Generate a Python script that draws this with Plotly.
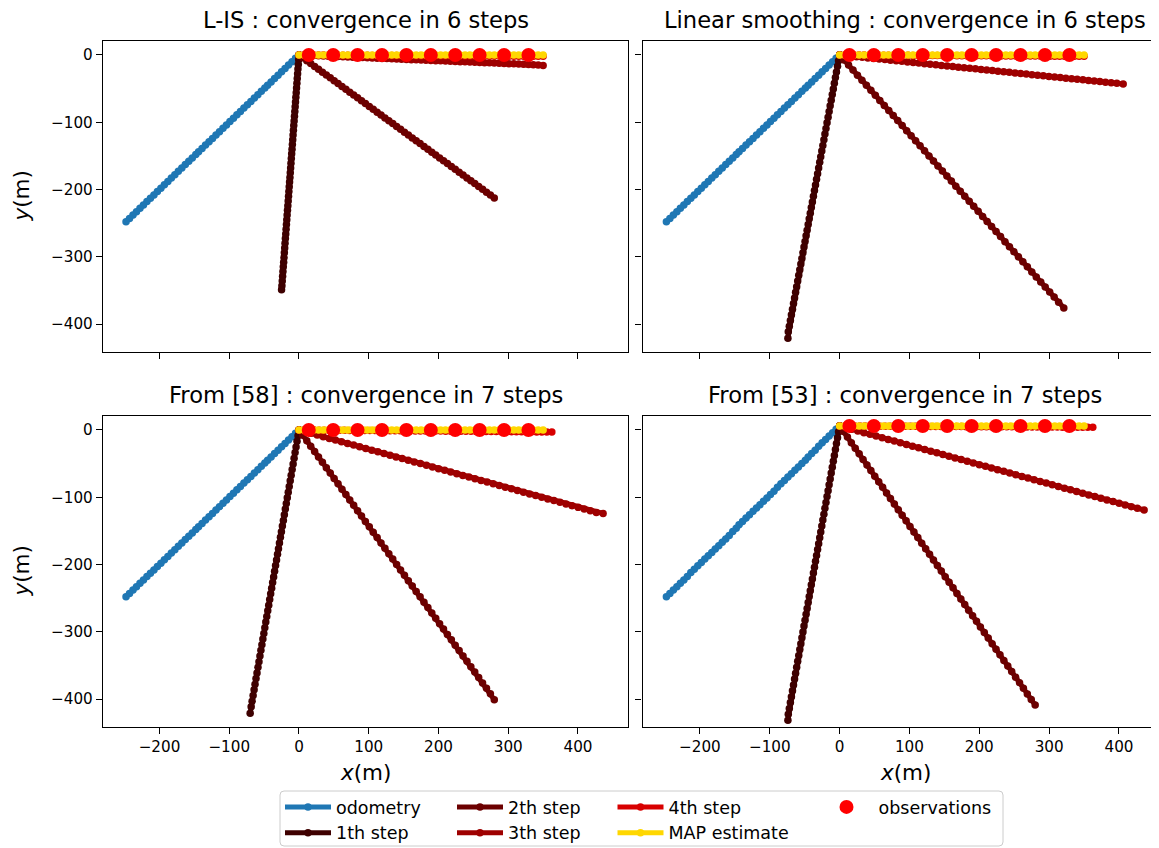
import plotly.graph_objects as go

# ---------------- data (metres) ----------------
# odometry (same dead-reckoning track in the first three panels)
odo = [0, -5, -10, -15, -20, -25, -30, -35, -40, -45, -49, -54, -59, -64, -69, -74, -79, -84, -89, -94,
       -99, -104, -109, -114, -119, -124, -129, -134, -139, -144, -148, -153, -158, -163, -168, -173, -178,
       -183, -188, -193, -198, -203, -208, -213, -218, -223, -228, -233, -238, -243, -248]
odo_br_y = [6, 1, -4, -9, -14, -19, -24, -30, -35, -40, -45, -50, -55, -60, -65, -70, -75, -80, -85, -91,
            -96, -101, -106, -111, -116, -121, -126, -131, -136, -141, -146, -151, -157, -162, -167, -172,
            -177, -182, -187, -192, -197, -202, -207, -212, -218, -223, -228, -233, -238, -243, -248]

# MAP estimate / observations
map_x = [0, 7, 14, 21, 28, 35, 42, 49, 56, 63, 70, 77, 84, 91, 98, 105, 112, 119, 126, 133, 140, 147, 154,
         161, 168, 175, 182, 189, 196, 203, 210, 217, 224, 231, 238, 245, 252, 259, 266, 273, 280, 287, 294,
         301, 308, 315, 322, 329, 336, 343, 350]
map_y = [0] * 51
map_y_br = [6] * 51
obs_x = [14, 49, 84, 119, 154, 189, 224, 259, 294, 329]
obs_y = [0] * 10
obs_y_br = [6] * 10

# ---- L-IS (top left)
lis_s1_x = [0, -0.5, -1, -1.5, -2, -2.5, -3, -3.5, -4, -4.5, -5, -5.5, -6, -6.5, -7, -7.5, -8, -8.5, -9, -9.5,
            -10, -10.5, -11, -11.5, -12, -12.5, -13, -13.5, -14, -14.5, -15, -15.5, -16, -16.5, -17, -17.5,
            -18, -18.5, -19, -19.5, -20, -20.5, -21, -21.5, -22, -22.5, -23, -23.5, -24, -24.5, -25]
lis_s1_y = [0, -7, -14, -21, -28, -35, -42, -49, -56, -63, -70, -77, -84, -91, -98, -105, -112, -119, -126,
            -133, -140, -147, -154, -161, -168, -175, -182, -189, -196, -203, -210, -217, -224, -231, -238,
            -245, -252, -259, -266, -273, -280, -287, -294, -301, -308, -315, -322, -329, -336, -343, -349]
s2_x_a = [0, 5.6, 11.2, 16.8, 22.4, 28, 33.6, 39.2, 44.8, 50.4, 56, 61.6, 67.2, 72.8, 78.4, 84, 89.6, 95.2,
          100.8, 106.4, 112, 117.6, 123.2, 128.8, 134.4, 140, 145.6, 151.2, 156.8, 162.4, 168, 173.6, 179.2,
          184.8, 190.4, 196, 201.6, 207.2, 212.8, 218.4, 224, 229.6, 235.2, 240.8, 246.4, 252, 257.6, 263.2,
          268.8, 274.4, 280]
lis_s2_y = [0, -4.25, -8.5, -12.75, -17, -21.25, -25.5, -29.75, -34, -38.25, -42.5, -46.75, -51, -55.25,
            -59.5, -63.75, -68, -72.25, -76.5, -80.75, -85, -89.25, -93.5, -97.75, -102, -106.25, -110.5,
            -114.75, -119, -123.25, -127.5, -131.75, -136, -140.25, -144.5, -148.75, -153, -157.25, -161.5,
            -165.75, -170, -174.25, -178.5, -182.75, -187, -191.25, -195.5, -199.75, -204, -208.25, -212.5]
lis_s3_y = [0, -0.3, -0.6, -0.9, -1.2, -1.5, -1.8, -2.1, -2.4, -2.7, -3, -3.3, -3.6, -3.9, -4.2, -4.5, -4.8,
            -5.1, -5.4, -5.7, -6, -6.3, -6.6, -6.9, -7.2, -7.5, -7.8, -8.1, -8.4, -8.7, -9, -9.3, -9.6, -9.9,
            -10.2, -10.5, -10.8, -11.1, -11.4, -11.7, -12, -12.3, -12.6, -12.9, -13.2, -13.5, -13.8, -14.1,
            -14.4, -14.7, -15.5]
s4_y_small = [0, -0.04, -0.08, -0.12, -0.16, -0.2, -0.24, -0.28, -0.32, -0.36, -0.4, -0.44, -0.48, -0.52,
              -0.56, -0.6, -0.64, -0.68, -0.72, -0.76, -0.8, -0.84, -0.88, -0.92, -0.96, -1, -1.04, -1.08,
              -1.12, -1.16, -1.2, -1.24, -1.28, -1.32, -1.36, -1.4, -1.44, -1.48, -1.52, -1.56, -1.6, -1.64,
              -1.68, -1.72, -1.76, -1.8, -1.84, -1.88, -1.92, -1.96, -2]

# ---- Linear smoothing (top right)
s1_x_b = [0, -1.5, -3, -4.5, -6, -7.5, -9, -10.5, -12, -13.5, -15, -16.5, -18, -19.5, -21, -22.5, -24, -25.5,
          -27, -28.5, -30, -31.5, -33, -34.5, -36, -37.5, -39, -40.5, -42, -43.5, -45, -46.5, -48, -49.5, -51,
          -52.5, -54, -55.5, -57, -58.5, -60, -61.5, -63, -64.5, -66, -67.5, -69, -70.5, -72, -73.5, -74]
s1_y_b = [0, -8.4, -16.8, -25.2, -33.6, -42, -50.4, -58.8, -67.2, -75.6, -84, -92.4, -100.8, -109.2, -117.6,
          -126, -134.4, -142.8, -151.2, -159.6, -168, -176.4, -184.8, -193.2, -201.6, -210, -218.4, -226.8,
          -235.2, -243.6, -252, -260.4, -268.8, -277.2, -285.6, -294, -302.4, -310.8, -319.2, -327.6, -336,
          -344.4, -352.8, -361.2, -369.6, -378, -386.4, -394.8, -403.2, -411.6, -421]
lin_s2_x = [0, 6.4, 12.8, 19.2, 25.6, 32, 38.4, 44.8, 51.2, 57.6, 64, 70.4, 76.8, 83.2, 89.6, 96, 102.4, 108.8,
            115.2, 121.6, 128, 134.4, 140.8, 147.2, 153.6, 160, 166.4, 172.8, 179.2, 185.6, 192, 198.4, 204.8,
            211.2, 217.6, 224, 230.4, 236.8, 243.2, 249.6, 256, 262.4, 268.8, 275.2, 281.6, 288, 294.4, 300.8,
            307.2, 313.6, 321]
lin_s2_y = [0, -7.5, -15, -22.5, -30, -37.5, -45, -52.5, -60, -67.5, -75, -82.5, -90, -97.5, -105, -112.5,
            -120, -127.5, -135, -142.5, -150, -157.5, -165, -172.5, -180, -187.5, -195, -202.5, -210, -217.5,
            -225, -232.5, -240, -247.5, -255, -262.5, -270, -277.5, -285, -292.5, -300, -307.5, -315, -322.5,
            -330, -337.5, -345, -352.5, -360, -367.5, -376]
lin_s3_x = [0, 8.1, 16.2, 24.3, 32.4, 40.5, 48.6, 56.7, 64.8, 72.9, 81, 89.1, 97.2, 105.3, 113.4, 121.5, 129.6,
            137.7, 145.8, 153.9, 162, 170.1, 178.2, 186.3, 194.4, 202.5, 210.6, 218.7, 226.8, 234.9, 243, 251.1,
            259.2, 267.3, 275.4, 283.5, 291.6, 299.7, 307.8, 315.9, 324, 332.1, 340.2, 348.3, 356.4, 364.5,
            372.6, 380.7, 388.8, 396.9, 406]
lin_s3_y = [0, -0.86, -1.72, -2.58, -3.44, -4.3, -5.16, -6.02, -6.88, -7.74, -8.6, -9.46, -10.32, -11.18,
            -12.04, -12.9, -13.76, -14.62, -15.48, -16.34, -17.2, -18.06, -18.92, -19.78, -20.64, -21.5, -22.36,
            -23.22, -24.08, -24.94, -25.8, -26.66, -27.52, -28.38, -29.24, -30.1, -30.96, -31.82, -32.68, -33.54,
            -34.4, -35.26, -36.12, -36.98, -37.84, -38.7, -39.56, -40.42, -41.28, -42.14, -43]

# ---- From [58] (bottom left)
f58_s1_x = [0, -1.4, -2.8, -4.2, -5.6, -7, -8.4, -9.8, -11.2, -12.6, -14, -15.4, -16.8, -18.2, -19.6, -21,
            -22.4, -23.8, -25.2, -26.6, -28, -29.4, -30.8, -32.2, -33.6, -35, -36.4, -37.8, -39.2, -40.6, -42,
            -43.4, -44.8, -46.2, -47.6, -49, -50.4, -51.8, -53.2, -54.6, -56, -57.4, -58.8, -60.2, -61.6, -63,
            -64.4, -65.8, -67.2, -68.6, -70]
f58_s2_y = [0, -8, -16, -24, -32, -40, -48, -56, -64, -72, -80, -88, -96, -104, -112, -120, -128, -136, -144,
            -152, -160, -168, -176, -184, -192, -200, -208, -216, -224, -232, -240, -248, -256, -264, -272,
            -280, -288, -296, -304, -312, -320, -328, -336, -344, -352, -360, -368, -376, -384, -392, -401]
s3_x_c = [0, 8.7, 17.4, 26.1, 34.8, 43.5, 52.2, 60.9, 69.6, 78.3, 87, 95.7, 104.4, 113.1, 121.8, 130.5, 139.2,
          147.9, 156.6, 165.3, 174, 182.7, 191.4, 200.1, 208.8, 217.5, 226.2, 234.9, 243.6, 252.3, 261, 269.7,
          278.4, 287.1, 295.8, 304.5, 313.2, 321.9, 330.6, 339.3, 348, 356.7, 365.4, 374.1, 382.8, 391.5, 400.2,
          408.9, 417.6, 426.3, 436]
f58_s3_y = [0, -2.5, -5, -7.5, -10, -12.5, -15, -17.5, -20, -22.5, -25, -27.5, -30, -32.5, -35, -37.5, -40,
            -42.5, -45, -47.5, -50, -52.5, -55, -57.5, -60, -62.5, -65, -67.5, -70, -72.5, -75, -77.5, -80,
            -82.5, -85, -87.5, -90, -92.5, -95, -97.5, -100, -102.5, -105, -107.5, -110, -112.5, -115, -117.5,
            -120, -122.5, -124]
s4_x_c = [0, 7.25, 14.5, 21.75, 29, 36.25, 43.5, 50.75, 58, 65.25, 72.5, 79.75, 87, 94.25, 101.5, 108.75, 116,
          123.25, 130.5, 137.75, 145, 152.25, 159.5, 166.75, 174, 181.25, 188.5, 195.75, 203, 210.25, 217.5,
          224.75, 232, 239.25, 246.5, 253.75, 261, 268.25, 275.5, 282.75, 290, 297.25, 304.5, 311.75, 319,
          326.25, 333.5, 340.75, 348, 355.25, 362.5]
f58_s4_y = [0, -0.06, -0.12, -0.18, -0.24, -0.3, -0.36, -0.42, -0.48, -0.54, -0.6, -0.66, -0.72, -0.78, -0.84,
            -0.9, -0.96, -1.02, -1.08, -1.14, -1.2, -1.26, -1.32, -1.38, -1.44, -1.5, -1.56, -1.62, -1.68, -1.74,
            -1.8, -1.86, -1.92, -1.98, -2.04, -2.1, -2.16, -2.22, -2.28, -2.34, -2.4, -2.46, -2.52, -2.58, -2.64,
            -2.7, -2.76, -2.82, -2.88, -2.94, -3]

# ---- From [53] (bottom right)
f53_s1_y = [6, -2.75, -11.5, -20.25, -29, -37.75, -46.5, -55.25, -64, -72.75, -81.5, -90.25, -99, -107.75,
            -116.5, -125.25, -134, -142.75, -151.5, -160.25, -169, -177.75, -186.5, -195.25, -204, -212.75,
            -221.5, -230.25, -239, -247.75, -256.5, -265.25, -274, -282.75, -291.5, -300.25, -309, -317.75,
            -326.5, -335.25, -344, -352.75, -361.5, -370.25, -379, -387.75, -396.5, -405.25, -414, -422.75,
            -431.5]
f53_s2_y = [6, -2.3, -10.6, -18.9, -27.2, -35.5, -43.8, -52.1, -60.4, -68.7, -77, -85.3, -93.6, -101.9, -110.2,
            -118.5, -126.8, -135.1, -143.4, -151.7, -160, -168.3, -176.6, -184.9, -193.2, -201.5, -209.8,
            -218.1, -226.4, -234.7, -243, -251.3, -259.6, -267.9, -276.2, -284.5, -292.8, -301.1, -309.4,
            -317.7, -326, -334.3, -342.6, -350.9, -359.2, -367.5, -375.8, -384.1, -392.4, -400.7, -409]
f53_s3_y = [6, 3.5, 1, -1.5, -4, -6.5, -9, -11.5, -14, -16.5, -19, -21.5, -24, -26.5, -29, -31.5, -34, -36.5,
            -39, -41.5, -44, -46.5, -49, -51.5, -54, -56.5, -59, -61.5, -64, -66.5, -69, -71.5, -74, -76.5, -79,
            -81.5, -84, -86.5, -89, -91.5, -94, -96.5, -99, -101.5, -104, -106.5, -109, -111.5, -114, -116.5,
            -119]
f53_s4_y = [6, 5.96, 5.92, 5.88, 5.84, 5.8, 5.76, 5.72, 5.68, 5.64, 5.6, 5.56, 5.52, 5.48, 5.44, 5.4, 5.36,
            5.32, 5.28, 5.24, 5.2, 5.16, 5.12, 5.08, 5.04, 5, 4.96, 4.92, 4.88, 4.84, 4.8, 4.76, 4.72, 4.68, 4.64,
            4.6, 4.56, 4.52, 4.48, 4.44, 4.4, 4.36, 4.32, 4.28, 4.24, 4.2, 4.16, 4.12, 4.08, 4.04, 4]

titles = ["L-IS : convergence in 6 steps", "Linear smoothing : convergence in 6 steps",
          "From [58] : convergence in 7 steps", "From [53] : convergence in 7 steps"]
series_names = ["odometry", "1th step", "2th step", "3th step", "4th step", "MAP estimate", "observations"]
x_tick_vals = [-200, -100, 0, 100, 200, 300, 400]
x_tick_text = ["\u2212200", "\u2212100", "0", "100", "200", "300", "400"]
y_tick_vals = [0, -100, -200, -300, -400]
y_tick_text = ["0", "\u2212100", "\u2212200", "\u2212300", "\u2212400"]

panels = [
    [(odo, odo), (lis_s1_x, lis_s1_y), (s2_x_a, lis_s2_y), (map_x, lis_s3_y), (map_x, s4_y_small),
     (map_x, map_y), (obs_x, obs_y)],
    [(odo, odo), (s1_x_b, s1_y_b), (lin_s2_x, lin_s2_y), (lin_s3_x, lin_s3_y), (map_x, s4_y_small),
     (map_x, map_y), (obs_x, obs_y)],
    [(odo, odo), (f58_s1_x, s1_y_b), (s2_x_a, f58_s2_y), (s3_x_c, f58_s3_y), (s4_x_c, f58_s4_y),
     (map_x, map_y), (obs_x, obs_y)],
    [(odo, odo_br_y), (s1_x_b, f53_s1_y), (s2_x_a, f53_s2_y), (s3_x_c, f53_s3_y), (s4_x_c, f53_s4_y),
     (map_x, map_y_br), (obs_x, obs_y_br)],
]

# ---------------- styling ----------------
colors = {"odometry": "#1f77b4", "1th step": "#3e0000", "2th step": "#6c0000", "3th step": "#9e0000",
          "4th step": "#d80000", "MAP estimate": "#ffd700", "observations": "#ff0000"}
legend_of = {"odometry": "legend", "1th step": "legend", "2th step": "legend2", "3th step": "legend2",
             "4th step": "legend3", "MAP estimate": "legend3", "observations": "legend4"}

# the page body adds an 8 px margin; the figure is sized so that it fills the 1159x848 window
OFF = 8
W, H = 1159 - OFF, 848 - OFF
FONT = "DejaVu Sans"

def px_x(p):
    # p: pixel column in the window
    return (p - OFF) / W

def px_y(p):
    # p: pixel row in the window
    return 1 - (p - OFF) / H

fig = go.Figure()
axis_ids = [("x", "y"), ("x2", "y2"), ("x3", "y3"), ("x4", "y4")]
for pi, panel in enumerate(panels):
    xa, ya = axis_ids[pi]
    for name, (xs, ys) in zip(series_names, panel):
        if name == "observations":
            fig.add_trace(go.Scatter(x=xs, y=ys, mode="markers", name=name, xaxis=xa, yaxis=ya,
                                     marker=dict(color=colors[name], size=14),
                                     legend=legend_of[name], showlegend=(pi == 0)))
        else:
            fig.add_trace(go.Scatter(x=xs, y=ys, mode="lines+markers", name=name, xaxis=xa, yaxis=ya,
                                     line=dict(color=colors[name], width=5),
                                     marker=dict(color=colors[name], size=7.5),
                                     legend=legend_of[name], showlegend=(pi == 0)))

xdom_l = [px_x(103), px_x(628)]
xdom_r = [px_x(642.5), 1.0]
ydom_t = [px_y(352), px_y(41)]
ydom_b = [px_y(727), px_y(416)]
xr_l = [-281, 471.7]
xr_r = [-282.2, 457.3]
yr = [-441.6, 20.8]

common = dict(showgrid=False, zeroline=False, showline=True, mirror=True, linecolor="black", linewidth=1.4,
              ticks="outside", ticklen=6, tickwidth=1.3, tickcolor="black", automargin=False,
              tickfont=dict(family=FONT, size=15.2, color="black"))

def xax(dom, rng, anchor, labels):
    return dict(domain=dom, range=rng, anchor=anchor, tickmode="array", tickvals=x_tick_vals,
                ticktext=x_tick_text, showticklabels=labels, **common)

def yax(dom, anchor, labels):
    return dict(domain=dom, range=yr, anchor=anchor, tickmode="array", tickvals=y_tick_vals,
                ticktext=y_tick_text, showticklabels=labels, **common)

annotations = []
centers = [((103 + 628) / 2, 20), (905, 20), ((103 + 628) / 2, 395), (905, 395)]
for t, (cx, cy) in zip(titles, centers):
    annotations.append(dict(text=t, x=px_x(cx), y=px_y(cy), xref="paper", yref="paper", showarrow=False,
                            xanchor="center", yanchor="middle", font=dict(family=FONT, size=22.6, color="black")))
for cy in [196.5, 571.5]:
    annotations.append(dict(text="<i>y</i>(m)", x=px_x(21), y=px_y(cy), xref="paper", yref="paper",
                            showarrow=False, textangle=-90, xanchor="center", yanchor="middle",
                            font=dict(family=FONT, size=21.5, color="black")))
for cx in [365.5, 905]:
    annotations.append(dict(text="<i>x</i>(m)", x=px_x(cx), y=px_y(772), xref="paper", yref="paper",
                            showarrow=False, xanchor="center", yanchor="middle",
                            font=dict(family=FONT, size=21.5, color="black")))

leg_common = dict(orientation="v", xanchor="left", yanchor="top", bgcolor="rgba(0,0,0,0)", borderwidth=0,
                  font=dict(family=FONT, size=17.5, color="black"), tracegroupgap=0, traceorder="normal")
leg_top = px_y(789)

# legend frame with rounded corners (window pixels)
bx0, bx1, by0, by1, r = 280, 1003, 791, 846, 4
frame_path = (f"M {px_x(bx0 + r)},{px_y(by0)} L {px_x(bx1 - r)},{px_y(by0)} "
              f"Q {px_x(bx1)},{px_y(by0)} {px_x(bx1)},{px_y(by0 + r)} L {px_x(bx1)},{px_y(by1 - r)} "
              f"Q {px_x(bx1)},{px_y(by1)} {px_x(bx1 - r)},{px_y(by1)} L {px_x(bx0 + r)},{px_y(by1)} "
              f"Q {px_x(bx0)},{px_y(by1)} {px_x(bx0)},{px_y(by1 - r)} L {px_x(bx0)},{px_y(by0 + r)} "
              f"Q {px_x(bx0)},{px_y(by0)} {px_x(bx0 + r)},{px_y(by0)} Z")

fig.update_layout(
    width=W, height=H, margin=dict(l=0, r=0, t=0, b=0, autoexpand=False),
    paper_bgcolor="white", plot_bgcolor="white",
    font=dict(family=FONT, color="black"),
    xaxis=xax(xdom_l, xr_l, "y", False), yaxis=yax(ydom_t, "x", True),
    xaxis2=xax(xdom_r, xr_r, "y2", False), yaxis2=yax(ydom_t, "x2", False),
    xaxis3=xax(xdom_l, xr_l, "y3", True), yaxis3=yax(ydom_b, "x3", True),
    xaxis4=xax(xdom_r, xr_r, "y4", True), yaxis4=yax(ydom_b, "x4", False),
    annotations=annotations,
    legend=dict(x=px_x(280), y=leg_top, itemwidth=46, **leg_common),
    legend2=dict(x=px_x(452), y=leg_top, itemwidth=46, **leg_common),
    legend3=dict(x=px_x(612.5), y=leg_top, itemwidth=46, **leg_common),
    legend4=dict(x=px_x(814.5), y=leg_top, itemwidth=54, **leg_common),
    shapes=[dict(type="path", path=frame_path, xref="paper", yref="paper",
                 line=dict(color="#cccccc", width=1), fillcolor="rgba(0,0,0,0)", layer="below")],
    showlegend=True,
)

fig.write_html("out.html")
